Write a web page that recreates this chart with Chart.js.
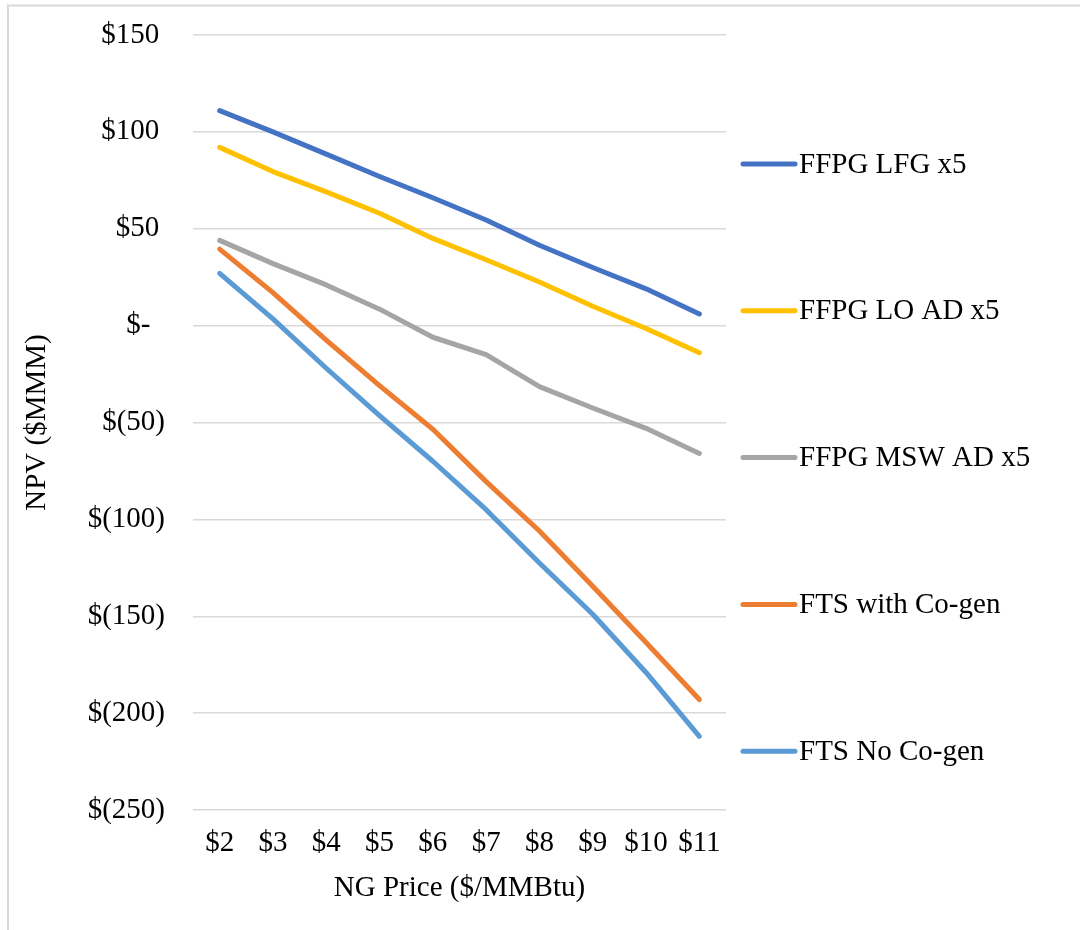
<!DOCTYPE html>
<html>
<head>
<meta charset="utf-8">
<title>NPV vs NG Price</title>
<script src="https://cdn.jsdelivr.net/npm/chart.js@4/dist/chart.umd.min.js"></script>
<style>
  html, body { margin: 0; padding: 0; background: #ffffff; }
  #wrap { position: relative; width: 1080px; height: 930px; }
</style>
</head>
<body>
<div id="wrap"><canvas id="npv" width="1080" height="930"></canvas></div>
<script>
// Natural gas price scenarios ($/MMBtu)
const categories = ['$2', '$3', '$4', '$5', '$6', '$7', '$8', '$9', '$10', '$11'];

// NPV by pathway ($MMM)
const ffpgLfg    = [111, 100, 88.5, 77, 66, 54.5, 41.5, 30, 19, 6];
const ffpgLoAd   = [92, 79.5, 69, 58, 45, 34, 22.5, 10, -1.5, -14];
const ffpgMswAd  = [44, 32, 21, 8.5, -6, -15, -31.5, -42.5, -53, -66];
const ftsCogen   = [39.5, 17, -7.5, -31, -53.5, -80.5, -106, -134.5, -163.5, -193];
const ftsNoCogen = [27, 3.5, -22, -46.5, -70, -95, -122.5, -149, -179, -212];

const seriesNames = ['FFPG LFG x5', 'FFPG LO AD x5', 'FFPG MSW AD x5', 'FTS with Co-gen', 'FTS No Co-gen'];

// Accounting-style labels for the NPV axis
const yTickValues = [150, 100, 50, 0, -50, -100, -150, -200, -250];
const yTickLabels = ['$150\u2009', '$100\u2009', '$50\u2009', '$-  ', '$(50)', '$(100)', '$(150)', '$(200)', '$(250)'];

const FONT = "'Liberation Serif', 'Times New Roman', serif";
const colors = ['#4472C4', '#FFC000', '#A5A5A5', '#ED7D31', '#5B9BD5'];
const values = [ffpgLfg, ffpgLoAd, ffpgMswAd, ftsCogen, ftsNoCogen];

// Frame around the chart
const framePlugin = {
  id: 'frame',
  beforeDraw(chart) {
    const ctx = chart.ctx;
    ctx.save();
    ctx.strokeStyle = '#d9d9d9';
    ctx.lineWidth = 2;
    ctx.beginPath();
    ctx.moveTo(8, 930);
    ctx.lineTo(8, 5.5);
    ctx.lineTo(1080, 5.5);
    ctx.stroke();
    ctx.restore();
  }
};

// Legend stacked on the right, spread over the plot height
const sideLegend = {
  id: 'sideLegend',
  afterDraw(chart) {
    const ctx = chart.ctx;
    ctx.save();
    ctx.font = '29px ' + FONT;
    ctx.textBaseline = 'middle';
    ctx.textAlign = 'left';
    chart.data.datasets.forEach((ds, i) => {
      const y = 164 + i * 146.8;
      ctx.strokeStyle = ds.borderColor;
      ctx.lineWidth = 5;
      ctx.lineCap = 'round';
      ctx.beginPath();
      ctx.moveTo(743, y);
      ctx.lineTo(795, y);
      ctx.stroke();
      ctx.fillStyle = '#000000';
      ctx.fillText(ds.label, 799, y + 1);
    });
    ctx.restore();
  }
};

new Chart(document.getElementById('npv'), {
  type: 'line',
  data: {
    labels: categories,
    datasets: values.map((v, i) => ({
      label: seriesNames[i],
      data: v,
      borderColor: colors[i],
      backgroundColor: colors[i],
      borderWidth: 5,
      borderCapStyle: 'round',
      borderJoinStyle: 'round',
      pointRadius: 0,
      tension: 0,
      fill: false
    }))
  },
  options: {
    responsive: false,
    animation: false,
    layout: { padding: { top: 35, right: 354, bottom: 0, left: 0 } },
    plugins: {
      legend: { display: false },
      tooltip: { enabled: false }
    },
    scales: {
      x: {
        type: 'category',
        offset: true,
        grid: { display: false, drawTicks: false },
        border: { display: false },
        ticks: {
          color: '#000000',
          font: { family: FONT, size: 29 },
          padding: 16,
          maxRotation: 0,
          autoSkip: false
        },
        title: {
          display: true,
          text: 'NG Price ($/MMBtu)',
          color: '#000000',
          font: { family: FONT, size: 29 },
          padding: { top: 0, bottom: 24 }
        },
        afterFit(scale) { scale.height = 120; }
      },
      y: {
        min: -250,
        max: 150,
        // invisible tick marks keep the labels clear of the plot
        grid: { color: '#d9d9d9', lineWidth: 1.5, drawTicks: true, tickLength: 28, tickColor: 'rgba(0,0,0,0)' },
        border: { display: false },
        afterBuildTicks(scale) {
          scale.ticks = yTickValues.map(v => ({ value: v }));
        },
        ticks: {
          color: '#000000',
          font: { family: FONT, size: 29 },
          padding: 0,
          callback(value) {
            const idx = yTickValues.indexOf(value);
            return idx >= 0 ? yTickLabels[idx] : '';
          }
        },
        title: {
          display: true,
          text: 'NPV ($MMM)',
          color: '#000000',
          font: { family: FONT, size: 29 },
          padding: { top: 20, bottom: 0 }
        },
        afterFit(scale) { scale.width = 193; }
      }
    }
  },
  plugins: [framePlugin, sideLegend]
});
</script>
</body>
</html>
